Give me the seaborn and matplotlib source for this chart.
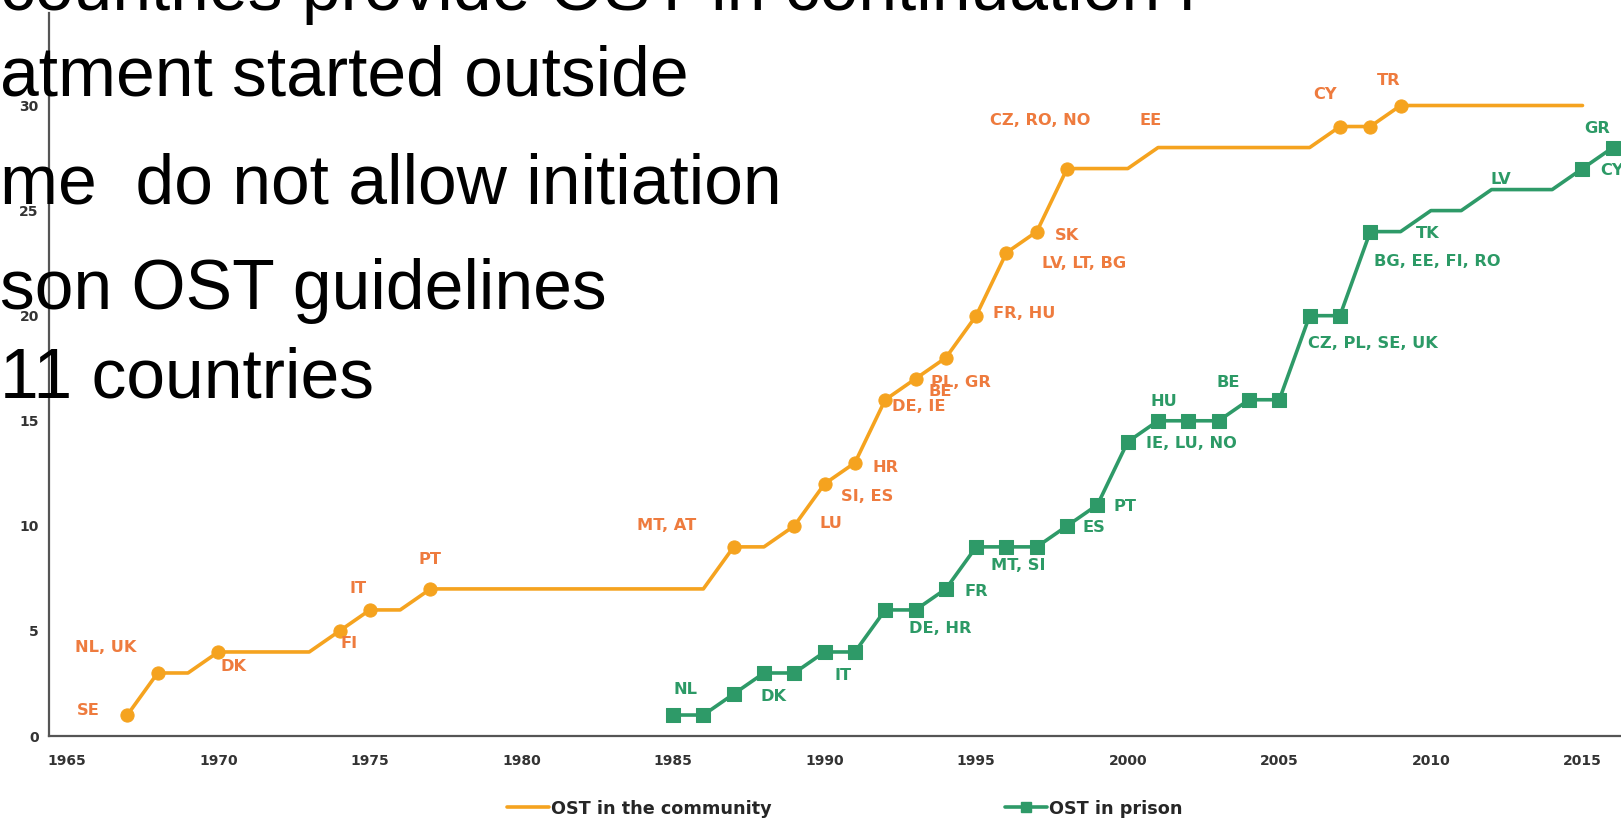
import numpy as np
import pandas as pd
import matplotlib
matplotlib.use("Agg")
import matplotlib.pyplot as plt
from matplotlib.lines import Line2D
import seaborn as sns

# data
comm_years = list(range(1967, 2016))
comm_vals = [1, 3, 3, 4, 4, 4, 4, 5, 6, 6, 7, 7, 7, 7, 7, 7, 7, 7, 7, 7,
             9, 9, 10, 12, 13, 16, 17, 18, 20, 23, 24, 27, 27, 27, 28, 28, 28, 28, 28, 28,
             29, 29, 30, 30, 30, 30, 30, 30, 30]
comm_marked = [1967, 1968, 1970, 1974, 1975, 1977, 1987, 1989, 1990, 1991, 1992,
               1993, 1994, 1995, 1996, 1997, 1998, 2007, 2008, 2009]

prison_years = list(range(1985, 2017))
prison_vals = [1, 1, 2, 3, 3, 4, 4, 6, 6, 7, 9, 9, 9, 10, 11, 14, 15, 15, 15, 16, 16,
               20, 20, 24, 24, 25, 25, 26, 26, 26, 27, 28]
prison_marked = list(range(1985, 2009)) + [2015, 2016]

# country labels (text, year, value)
comm_labels = [("SE", 1965.7, 1.2), ("NL, UK", 1966.3, 4.2), ("DK", 1970.5, 3.3),
               ("FI", 1974.3, 4.4), ("IT", 1974.6, 7.0), ("PT", 1977.0, 8.4),
               ("MT, AT", 1984.8, 10.0), ("LU", 1990.2, 10.1), ("SI, ES", 1991.4, 11.4),
               ("HR", 1992.0, 12.8), ("DE, IE", 1993.1, 15.7), ("BE", 1993.8, 16.4),
               ("PL, GR", 1994.5, 16.8), ("FR, HU", 1996.6, 20.1),
               ("LV, LT, BG", 1998.55, 22.5), ("SK", 1998.0, 23.8),
               ("CZ, RO, NO", 1997.1, 29.3), ("EE", 2000.75, 29.3),
               ("CY", 2006.5, 30.5), ("TR", 2008.6, 31.2)]
prison_labels = [("NL", 1985.4, 2.2), ("DK", 1988.3, 1.9), ("IT", 1990.6, 2.9),
                 ("DE, HR", 1993.8, 5.1), ("FR", 1995.0, 6.9), ("MT, SI", 1996.4, 8.1),
                 ("ES", 1998.9, 9.9), ("PT", 1999.9, 10.9), ("IE, LU, NO", 2002.1, 13.9),
                 ("HU", 2001.2, 15.9), ("BE", 2003.3, 16.8),
                 ("CZ, PL, SE, UK", 2008.1, 18.7), ("BG, EE, FI, RO", 2010.2, 22.6),
                 ("TK", 2009.9, 23.9), ("LV", 2012.3, 26.5), ("GR", 2015.5, 28.9),
                 ("CY", 2015.6, 26.9)]

# slide text lying over the chart (left part cut off in the original)
slide_lines = ["countries provide OST in continuation i", "atment started outside",
               "me  do not allow initiation", "son OST guidelines", "11 countries"]
slide_x = [0, 0, 0, 0, 0]
slide_y = [10, 96, 204, 309, 398]

ORANGE = "#F5A31F"
ORANGE_TXT = "#EE7B3E"
GREEN = "#2E9A68"
GREEN_TXT = "#2C9A66"

sns.set_style("white")

comm = pd.DataFrame({"year": comm_years, "n": comm_vals})
comm["marked"] = comm["year"].isin(comm_marked)
prison = pd.DataFrame({"year": prison_years, "n": prison_vals})
prison["marked"] = prison["year"].isin(prison_marked)

W, H = 1621, 822
fig = plt.figure(figsize=(W / 100, H / 100), dpi=100)
ax = fig.add_axes([0, 0, 1, 1])

sns.lineplot(data=comm, x="year", y="n", color=ORANGE, lw=2.6, ax=ax, legend=False)
sns.scatterplot(data=comm[comm["marked"]], x="year", y="n", color=ORANGE, s=90,
                marker="o", edgecolor=ORANGE, ax=ax, legend=False, zorder=3)
sns.lineplot(data=prison, x="year", y="n", color=GREEN, lw=2.6, ax=ax, legend=False)
sns.scatterplot(data=prison[prison["marked"]], x="year", y="n", color=GREEN, s=90,
                marker="s", edgecolor=GREEN, ax=ax, legend=False, zorder=3)

for txt, x, y in comm_labels:
    ax.text(x, y, txt, color=ORANGE_TXT, fontsize=11.7, fontweight="bold",
            ha="center", va="center")
for txt, x, y in prison_labels:
    ax.text(x, y, txt, color=GREEN_TXT, fontsize=11.7, fontweight="bold",
            ha="left" if txt == "CY" else "center", va="center")

# axis mapping so the chart sits where it does in the picture
ax.set_xlim(1962.80, 2016.27)
ax.set_ylim(-4.09, 35.02)
ax.set_xlabel("")
ax.set_ylabel("")
for s in ["top", "right"]:
    ax.spines[s].set_visible(False)
ax.spines["left"].set_position(("data", 1964.4))
ax.spines["left"].set_bounds(0, 34.4)
ax.spines["bottom"].set_position(("data", 0))
ax.spines["bottom"].set_bounds(1964.4, 2016.27)
for s in ["left", "bottom"]:
    ax.spines[s].set_color("#555555")
    ax.spines[s].set_linewidth(1.6)

ax.set_xticks(range(1965, 2016, 5))
ax.set_xticks(range(1965, 2017), minor=True)
ax.set_yticks(range(0, 31, 5))
ax.tick_params(axis="x", which="both", direction="inout", length=6, width=1,
               colors="#555555", labelsize=10, labelcolor="#333333", pad=10)
ax.tick_params(axis="y", direction="out", length=3, width=1, colors="#555555",
               labelsize=10, labelcolor="#333333", pad=4)
for lab in ax.get_xticklabels() + ax.get_yticklabels():
    lab.set_fontweight("bold")

handles = [Line2D([], [], color=ORANGE, lw=2.6),
           Line2D([], [], color=GREEN, lw=2.6, marker="s", markersize=7)]
fig.legend(handles, ["OST in the community", "OST in prison"], loc="lower center",
           bbox_to_anchor=(0.521, -0.014), ncol=2, frameon=False,
           prop={"weight": "bold", "size": 12.7}, handlelength=2.4,
           handletextpad=0.1, columnspacing=13.2)

# big slide text: size it so "atment started outside" is about 700 px wide
slide_font = ["Liberation Sans", "Arial", "DejaVu Sans"]
probe = fig.text(0, 0, slide_lines[1], fontsize=50, family=slide_font)
fig.canvas.draw()
w = probe.get_window_extent().width
probe.remove()
slide_size = 50 * 690 / w

for txt, x, y in zip(slide_lines, slide_x, slide_y):
    fig.text(x / W, 1 - y / H, txt, fontsize=slide_size, color="black", va="baseline",
             ha="left", family=slide_font, zorder=10)

fig.savefig("out.png", dpi=100)
